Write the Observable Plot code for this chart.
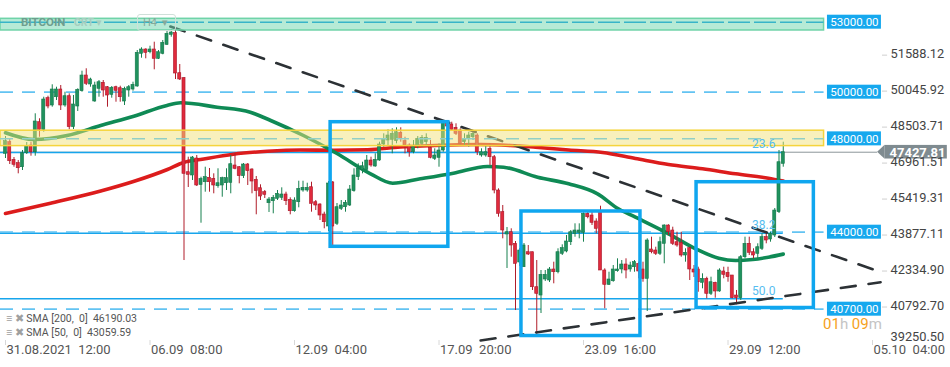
<!DOCTYPE html>
<html><head><meta charset="utf-8">
<script src="https://cdn.jsdelivr.net/npm/d3@7"></script>
<script src="https://cdn.jsdelivr.net/npm/@observablehq/plot@0.6"></script>
<style>
body{margin:0;background:#fff;font-family:Roboto,"Open Sans",sans-serif;}
#wrap{position:relative;width:950px;height:367px;overflow:hidden;}
.ov{position:absolute;white-space:pre;line-height:1;}
</style></head><body>
<div id="wrap"></div>
<script>
// ---- candles (H4), index = candle number ----
const candleOpen = [47360,47857,47102,46957,46785,47385,47715,47428,48714,48388,
49743,49430,49785,50115,49430,49828,48500,49387,50043,50715,
50330,49601,50145,50403,50214,49888,50214,50171,49601,50073,
50115,50244,51646,51830,51714,51830,51431,51646,52031,52460,
52529,50814,50600,46571,46430,47158,46022,46142,46331,46288,
45971,46001,46099,46117,46858,46785,46400,46901,46687,46245,
45885,45714,45242,45328,45431,45474,45615,45388,44899,45285,
45787,45787,45928,45285,45187,44758,44244,46130,44359,45002,
45071,45144,45757,46357,46674,46674,47072,46815,47072,47758,
47930,47960,47900,48260,47900,47715,47428,47715,47788,47857,
47617,47145,47188,47501,48658,48615,48474,48358,47857,48002,
48071,48144,47287,47287,47574,47214,45787,44857,43901,43999,
43502,42701,42499,43142,43142,41642,41286,41972,41929,42401,
42285,43074,43172,43571,43931,43974,43974,44788,44715,44458,
44857,42358,41745,41899,42328,42401,42615,42401,42499,42645,
42401,42002,43258,43215,43074,43502,44287,44072,43571,43545,
43001,43314,42401,42401,41831,42002,41359,41831,41458,42315,
42259,42144,41286,41171,42928,43502,43142,43074,43288,43786,
43686,43858,44857,46931];
const candleHigh = [48101,48015,47201,47072,47501,47844,47857,49074,48860,49785,
49828,50317,50214,50287,50000,49931,49858,50145,50900,51003,
50600,50428,50501,50501,50244,50244,50257,50257,50214,50287,
50428,51787,51903,51860,51971,52143,51787,52216,52644,52687,
52687,51187,50630,47214,47244,47287,46357,46785,46730,46502,
46717,46357,46717,47287,47360,46815,46944,46944,46717,46387,
46031,45787,45487,45572,45787,45902,45714,45474,45474,46185,
46185,46099,46142,45358,45217,44857,46172,46172,45229,45358,
45358,46001,46717,46931,46999,47287,47214,47360,47857,48217,
48388,48431,48474,48474,48071,47788,47930,48101,48144,48217,
47930,47574,47788,48787,48787,48714,48645,48431,48217,48285,
48285,48217,47574,47715,47788,47287,45859,45144,44201,44145,
43601,43301,43515,43429,43142,42786,42358,42358,42486,42714,
43288,43459,43858,44072,44359,44359,44831,44857,44857,44574,
45114,42430,42285,42572,42859,42786,42859,42714,42786,42714,
42714,43716,43786,43356,43786,44316,44316,44214,43999,43999,
43288,43356,42572,42499,42216,42071,42071,41856,42430,42499,
42499,42144,41501,43001,43786,43786,43288,43502,43931,43931,
43999,45015,47501,47857];
const candleLow = [47158,46901,46785,46502,46644,47330,47257,47257,48071,48285,
49288,49357,49644,49215,49357,48388,48401,49173,50000,50287,
50214,49571,49785,49785,49357,49743,49571,49571,49430,49785,
50043,50214,51457,51431,51646,50960,51401,51603,52001,52357,
50544,50501,42786,45915,46215,45958,44385,45714,45714,45645,
45885,45499,45787,45645,46674,46074,46301,46001,45645,44745,
45358,45444,44844,44788,45358,45358,45144,44745,44857,45045,
45714,45714,44857,44929,44501,44145,44029,43356,44287,44929,
44857,45101,45714,46215,46502,46571,46785,46785,47042,47642,
47715,47360,47788,47857,47360,47214,47360,47574,47642,47715,
47145,47072,46785,47428,48444,48358,48144,47715,47715,47642,
47930,47287,47214,47214,46858,45645,44642,43716,42444,42928,
40643,42529,42499,43001,41501,39572,40515,41886,41843,41788,
42216,43001,43116,43429,43785,43716,43571,44574,44287,43931,
42358,40716,41715,41856,42285,42216,42002,42285,42285,42002,
41856,40601,43074,43001,43001,42645,43858,43429,43356,42928,
42714,41929,42058,41427,41573,41145,41286,41171,41427,42002,
41856,41145,40888,41072,42859,43001,42859,42859,43215,43502,
43571,43772,44801,46785];
const candleClose = [47900,47042,46888,46742,47385,47672,47428,48744,48388,49687,
49387,50115,50115,49430,49828,48500,49473,50103,50715,50360,
50544,50287,50428,50073,49858,50188,50060,49785,50145,50214,
50317,51688,51830,51688,51830,51431,51714,52117,52503,52558,
50801,50544,46502,46460,47201,46001,46280,46357,46142,46001,
46099,46314,46314,46914,46717,46400,46901,46614,46172,45757,
45529,45602,45401,45474,45645,45615,45328,44899,45358,45859,
45902,45902,45217,45144,44715,44428,46087,44244,45071,45144,
45259,45829,46430,46717,46828,47072,46858,47102,47758,48002,
48144,48217,48285,48002,47715,47428,47642,48002,48045,48045,
47188,47287,47501,48714,48530,48388,48217,47788,48002,48144,
48217,47428,47428,47428,47214,45787,44788,44072,43999,43429,
42645,43215,43429,43044,41642,41359,42173,42173,42401,42285,
43142,43314,43601,43999,44072,44072,44788,44642,44402,44145,
42358,41745,41972,42401,42401,42615,42358,42572,42714,42315,
42002,43644,43142,43074,43571,44287,43999,43502,43429,43001,
43116,42401,42272,41856,42002,41359,41856,41458,42358,42173,
42071,41171,41171,42928,43502,43116,43001,43356,43786,43644,
43931,44929,46999,47428];

// ---- moving averages (read at sample candles) ----
const sma200Idx = [0,10.6,22.4,30.1,38.1,41.9,45.9,53.6,61.6,69.4,77.2,85.2,92.9,104.7,111.8,118.8,124.7,132.5,140.5,148.2,156,164,171.8,179.5,183];
const sma200Val = [44801,45242,45765,46172,46687,46987,47115,47343,47467,47522,47510,47531,47651,47737,47758,47715,47642,47523,47415,47158,46901,46717,46502,46314,46190];
const sma50Idx = [0,6.7,14.5,22.4,30.2,38,41.2,49.8,57.6,62.4,70.1,78.1,85.9,91.1,97.6,105.4,113.4,117.2,125.2,132.5,139.3,144.2,148.2,156,162.4,167.8,171.8,175.8,179.5,183];
const sma50Val = [48260,47972,48144,48572,48971,49430,49545,49357,49142,48787,48144,47360,46502,46099,46288,46528,46815,46785,46357,46074,45645,45002,44642,43931,43288,42885,42786,42829,42928,43060];
const legendLabels = ["SMA [200,  0]  46190.03", "SMA [50,  0]  43059.59"];

// ---- levels, zones, fibonacci, drawings ----
const levelValues = [53000, 50000, 48000, 44000, 40700];
const levelLabels = ["53000.00", "50000.00", "48000.00", "44000.00", "40700.00"];
const zoneLow = [52645, 47690];
const zoneHigh = [53145, 48350];
const fibValues = [47415, 43957, 41145];
const fibLabels = ["23.6", "38.2", "50.0"];
const currentPrice = 47427.81;
const boxIdx1 = [76.5, 121.4, 162.6];
const boxIdx2 = [104.2, 149.4, 190.2];
const boxTop = [48714, 44887, 46142];
const boxBottom = [43374, 39550, 40751];
const trendIdx = [[38.8, 205.9], [111.8, 205.9]];
const trendVal = [[52816, 42298], [39358, 41856]];

// ---- axes ----
const xTickIdx = [0, 34, 68, 102, 136, 170, 204];
const xTickLabels = ["31.08.2021\u00a0 12:00", "06.09\u00a0 08:00", "12.09\u00a0 04:00", "17.09\u00a0 20:00", "23.09\u00a0 16:00", "29.09\u00a0 12:00", "05.10\u00a0 04:00"];
const yTickVals = [51588.12, 50045.92, 48503.71, 46961.51, 45419.31, 43877.11, 42334.90, 40792.70, 39250.50];

// ---- build ----
const candles = candleOpen.map((o, i) => ({i, o, h: candleHigh[i], l: candleLow[i], c: candleClose[i], up: candleClose[i] >= o}));
const sma200 = sma200Idx.map((x, k) => ({x, v: sma200Val[k]}));
const sma50 = sma50Idx.map((x, k) => ({x, v: sma50Val[k]}));
const zones = zoneLow.map((lo, k) => ({lo, hi: zoneHigh[k], k}));
const boxes = boxIdx1.map((a, k) => ({a, b: boxIdx2[k], t: boxTop[k], bt: boxBottom[k]}));
const trends = trendIdx.flatMap((xs, k) => xs.map((x, j) => ({k, x, v: trendVal[k][j]})));
const levels = levelValues.map((v, k) => ({v, label: levelLabels[k]}));
const fibs = fibValues.map((v, k) => ({v, label: fibLabels[k]}));

const xMin = -1.176, xMax = 206.35, yMin = 39358, yMax = 53930;
const levelEnd = 192.6, fibEnd = 183, fibLabelX = 178.4, tagTip = 205.2;
const pxY = (yMax - yMin) / 340; // price units per pixel

const chart = Plot.plot({
  width: 950, height: 367,
  marginLeft: 0, marginRight: 68, marginTop: 0, marginBottom: 27,
  x: {type: "linear", domain: [xMin, xMax], axis: null},
  y: {domain: [yMin, yMax], axis: null},
  color: {type: "identity"},
  style: {fontFamily: "Roboto, sans-serif", background: "transparent", overflow: "visible"},
  marks: [
    Plot.ruleY([currentPrice], {x1: xMin, x2: tagTip, stroke: "#8b959a", strokeWidth: 1}),
    Plot.ruleY(fibs, {y: "v", x1: xMin, x2: fibEnd, stroke: "#17a5ec", strokeWidth: 1.5}),
    Plot.ruleY([50000, 44000, 40700], {x1: xMin, x2: levelEnd, stroke: "#63c3f2", strokeWidth: 1.8, strokeDasharray: "13,9"}),
    Plot.line(sma200, {x: "x", y: "v", stroke: "#dc1c1c", strokeWidth: 3.6, curve: "monotone-x"}),
    Plot.line(sma50, {x: "x", y: "v", stroke: "#0f8a55", strokeWidth: 3.6, curve: "monotone-x"}),
    Plot.ruleX(candles, {x: "i", y1: "l", y2: "h", stroke: d => d.up ? "#17804f" : "#b01c2a", strokeWidth: 1}),
    Plot.rect(candles, {x1: d => d.i - 0.36, x2: d => d.i + 0.36, y1: "o", y2: "c",
      fill: d => d.up ? "#20925e" : "#e02a3c", stroke: d => d.up ? "#13774a" : "#a8172a", strokeWidth: 0.6}),
    Plot.line(trends, {x: "x", y: "v", z: "k", stroke: "#2c3135", strokeWidth: 2.6, strokeDasharray: "15,13"}),
    Plot.rect(zones, {x1: xMin, x2: levelEnd, y1: "lo", y2: "hi",
      fill: d => d.k === 0 ? "#6dd6ae" : "#f2e27a", fillOpacity: 0.5,
      stroke: d => d.k === 0 ? "#6fd3a8" : "#f5d43c", strokeWidth: 1.5}),
    Plot.ruleY([53000], {x1: xMin, x2: levelEnd, stroke: "#37b4c8", strokeWidth: 1.5, strokeDasharray: "22,4"}),
    Plot.ruleY([48000], {x1: xMin, x2: levelEnd, stroke: "#92cfc6", strokeWidth: 1.5, strokeDasharray: "13,9"}),
    Plot.rect(boxes, {x1: "a", x2: "b", y1: "bt", y2: "t", fill: "none", stroke: "#0fa6ef", strokeWidth: 3.5}),
    Plot.text(fibs, {x: fibLabelX, y: "v", text: "label", dy: -8, fill: "#56bdf0", fontSize: 12}),
    Plot.rect(levels, {x1: 193.4, x2: 206.1, y1: d => d.v - 7 * pxY, y2: d => d.v + 7 * pxY, fill: "#16a8ee"}),
    Plot.text(levels, {x: 199.75, y: "v", text: "label", fill: "#fff", fontSize: 11.5, dy: 0.5}),
    // current price tag
    Plot.areaY([{x: tagTip, lo: currentPrice, hi: currentPrice}, {x: 206.9, lo: currentPrice - 6.8 * pxY, hi: currentPrice + 6.8 * pxY}],
      {x: "x", y1: "lo", y2: "hi", fill: "#7f8b90"}),
    Plot.rect([currentPrice], {x1: 206.9, x2: 221.6, y1: d => d - 6.8 * pxY, y2: d => d + 6.8 * pxY, fill: "#7f8b90"}),
    // right price axis
    Plot.ruleY(yTickVals.slice(0, -1), {x1: 206.35, x2: 207.55, stroke: "#cfcfcf"}),
    Plot.text(yTickVals.slice(0, -1), {x: 208.24, y: d => d, text: d => d.toFixed(2), textAnchor: "start", dy: -1, fill: "#444", fontSize: 12.8}),
    Plot.text(yTickVals.slice(-1), {x: 208.24, y: d => d, text: d => d.toFixed(2), textAnchor: "start", dy: -6, fill: "#444", fontSize: 12.8}),
    Plot.text([currentPrice], {x: 208.0, y: d => d, text: d => d.toFixed(2), textAnchor: "start", fill: "#fff", fontSize: 13, fontWeight: "bold", dy: 0.5}),
    // bottom time axis
    Plot.ruleX(xTickIdx, {x: d => d, y1: yMin, y2: yMin - 5 * pxY, stroke: "#d8d8d8"}),
    Plot.text(xTickIdx, {x: d => d, y: yMin, text: (d, k) => xTickLabels[k], textAnchor: "start", lineAnchor: "top", dx: 1, dy: 4, fill: "#555", fontSize: 13})
  ]
});
const wrap = document.getElementById("wrap");
wrap.appendChild(chart);

function addOv(html, style) {
  const d = document.createElement("div");
  d.className = "ov"; d.innerHTML = html; d.setAttribute("style", style);
  wrap.appendChild(d);
}
// header (under the mint zone, faded)
addOv("BITCOIN", "left:21px;top:17px;font-size:11.5px;font-weight:bold;color:#6f9e8e;");
addOv("CRT", "left:74px;top:18px;font-size:10.5px;font-weight:bold;color:#a6cdbf;");
addOv("\u25BE", "left:96px;top:17px;font-size:11px;color:#a6cdbf;");
addOv("H4&nbsp;&nbsp;\u25BE", "left:137px;top:14px;width:28px;height:12px;padding:2px 4px 1px 5px;font-size:11px;color:#86a99b;border:1px solid #cfe0d9;border-radius:3px;");
// legend
addOv("<span style='color:#a0a0a0'>\u2261 \u2716</span> " + legendLabels[0], "left:6px;top:314px;font-size:10.5px;color:#555;");
addOv("<span style='color:#a0a0a0'>\u2261 \u2716</span> " + legendLabels[1], "left:6px;top:328px;font-size:10.5px;color:#555;");
// countdown
addOv("<span style='color:#f5a11c'>01</span><span style='color:#c4c4c4'>h </span><span style='color:#f5a11c'>09</span><span style='color:#c4c4c4'>m</span>", "left:823px;top:317px;font-size:15px;");
</script>
</body></html>
